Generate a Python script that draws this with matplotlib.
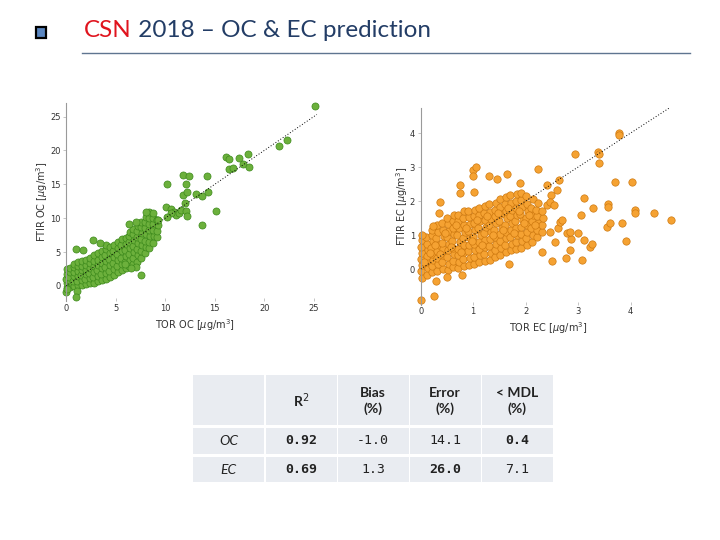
import matplotlib
matplotlib.use("Agg")
import matplotlib.pyplot as plt
from matplotlib.patches import Rectangle

# OC: TOR (x) vs FTIR (y), ug/m3
oc_points = [
    # dense band
    (0.05, -0.3), (0.08, 0.4), (0.03, 1.1), (0.1, 1.8), (0.06, 2.5), (0.02, -0.9),
    (0.4, -0.1), (0.45, 0.6), (0.35, 1.3), (0.42, 2.0), (0.38, 2.7),
    (0.8, 0.0), (0.75, 0.7), (0.85, 1.4), (0.78, 2.1), (0.82, 2.8), (0.8, 3.3),
    (1.2, 0.1), (1.15, 0.8), (1.25, 1.5), (1.18, 2.2), (1.22, 2.9), (1.2, 3.5),
    (1.6, 0.2), (1.65, 0.9), (1.55, 1.6), (1.62, 2.3), (1.58, 3.0), (1.6, 3.7),
    (2.0, 0.3), (1.95, 1.0), (2.05, 1.7), (2.0, 2.4), (1.97, 3.1), (2.03, 3.8),
    (2.4, 0.4), (2.45, 1.2), (2.35, 1.9), (2.42, 2.6), (2.38, 3.4), (2.4, 4.1),
    (2.8, 0.5), (2.75, 1.3), (2.85, 2.1), (2.78, 2.9), (2.82, 3.7), (2.8, 4.5),
    (3.2, 0.7), (3.25, 1.5), (3.15, 2.3), (3.22, 3.1), (3.18, 3.9), (3.2, 4.8),
    (3.6, 0.9), (3.55, 1.7), (3.65, 2.6), (3.58, 3.4), (3.62, 4.3), (3.6, 5.2),
    (4.0, 1.1), (4.05, 1.9), (3.95, 2.8), (4.02, 3.7), (3.98, 4.6), (4.0, 5.5), (4.05, 6.0),
    (4.4, 1.3), (4.35, 2.2), (4.45, 3.1), (4.38, 4.0), (4.42, 4.9), (4.4, 5.8),
    (4.8, 1.6), (4.85, 2.5), (4.75, 3.4), (4.82, 4.3), (4.78, 5.2), (4.8, 6.1),
    (5.2, 2.0), (5.15, 2.9), (5.25, 3.8), (5.18, 4.7), (5.22, 5.6), (5.2, 6.5),
    (5.6, 2.4), (5.65, 3.3), (5.55, 4.2), (5.62, 5.1), (5.58, 6.0), (5.6, 6.9),
    (6.0, 2.6), (5.95, 3.5), (6.05, 4.4), (5.98, 5.3), (6.02, 6.2), (6.0, 7.1),
    (6.4, 2.9), (6.45, 3.8), (6.35, 4.7), (6.42, 5.6), (6.38, 6.5), (6.4, 7.4), (6.45, 8.0),
    (6.8, 3.2), (6.75, 4.1), (6.85, 5.0), (6.78, 5.9), (6.82, 6.8), (6.8, 7.7), (6.75, 8.4),
    (7.2, 3.6), (7.25, 4.5), (7.15, 5.4), (7.22, 6.3), (7.18, 7.2), (7.2, 8.1), (7.25, 8.9),
    (7.6, 4.2), (7.55, 5.1), (7.65, 6.0), (7.58, 6.9), (7.62, 7.8), (7.6, 8.7), (7.55, 9.4),
    (8.0, 4.9), (8.05, 5.8), (7.95, 6.7), (8.02, 7.6), (7.98, 8.5), (8.0, 9.4), (8.05, 10.2),
    (8.4, 5.6), (8.35, 6.5), (8.45, 7.4), (8.38, 8.3), (8.42, 9.2), (8.4, 10.1), (8.35, 10.9),
    (8.8, 6.4), (8.85, 7.3), (8.75, 8.2), (8.82, 9.1), (8.78, 10.0), (8.8, 10.8),
    (9.2, 7.2), (9.15, 8.1), (9.25, 9.0), (9.2, 9.8),
    # scattered points
    (1.0, 5.4), (1.7, 5.3), (2.7, 6.8), (3.4, 6.3), (6.4, 9.2), (7.1, 9.5),
    (8.1, 10.9), (9.2, 9.7), (7.6, 1.6), (7.1, 2.8), (6.6, 2.6), (5.9, 3.3),
    (1.07, -0.8), (1.0, -1.7), (0.1, -0.5),
    (9.3, 9.8), (10.1, 11.7), (10.6, 11.4), (10.9, 10.9), (11.1, 10.4),
    (10.6, 10.7), (10.2, 10.2), (11.4, 10.7), (10.2, 15.0),
    (11.6, 11.2), (12.1, 11.1), (12.2, 10.3), (12.0, 12.2), (11.8, 13.4),
    (12.1, 15.1), (11.8, 16.3), (12.4, 16.2), (12.2, 13.8), (13.1, 13.6),
    (13.7, 13.3), (13.7, 9.0), (14.3, 13.8), (14.2, 16.2), (15.1, 11.1),
    (16.1, 19.0), (16.4, 18.7), (16.4, 17.2), (16.8, 17.4), (17.4, 18.9),
    (17.9, 18.0), (18.4, 19.5), (18.5, 17.5), (21.5, 20.6), (22.3, 21.6),
    (25.07, 26.6),
]

# EC: TOR (x) vs FTIR (y), ug/m3
ec_points = [
    # dense blob
    (0.02, -0.25), (0.0, -0.05), (0.03, 0.12), (0.01, 0.3), (0.02, 0.48), (0.0, 0.66), (0.03, 0.85),
    (0.12, -0.18), (0.13, 0.02), (0.11, 0.2), (0.12, 0.38), (0.14, 0.57), (0.12, 0.75), (0.1, 0.93),
    (0.22, -0.1), (0.21, 0.08), (0.23, 0.27), (0.22, 0.45), (0.2, 0.63), (0.24, 0.82), (0.22, 1.0), (0.21, 1.15),
    (0.32, -0.05), (0.33, 0.14), (0.31, 0.33), (0.32, 0.52), (0.34, 0.7), (0.3, 0.9), (0.33, 1.08), (0.32, 1.28),
    (0.42, 0.0), (0.41, 0.2), (0.43, 0.4), (0.42, 0.58), (0.4, 0.77), (0.44, 0.97), (0.42, 1.15), (0.41, 1.35),
    (0.52, -0.02), (0.53, 0.15), (0.51, 0.35), (0.52, 0.55), (0.54, 0.74), (0.5, 0.93), (0.53, 1.12), (0.52, 1.32), (0.51, 1.5),
    (0.62, 0.05), (0.61, 0.25), (0.63, 0.44), (0.62, 0.63), (0.6, 0.82), (0.64, 1.02), (0.62, 1.22), (0.61, 1.42), (0.63, 1.6),
    (0.72, 0.03), (0.73, 0.22), (0.71, 0.41), (0.72, 0.6), (0.74, 0.8), (0.7, 1.0), (0.73, 1.2), (0.72, 1.4), (0.71, 1.6),
    (0.82, 0.1), (0.81, 0.3), (0.83, 0.5), (0.82, 0.7), (0.8, 0.9), (0.84, 1.1), (0.82, 1.3), (0.81, 1.5), (0.83, 1.7),
    (0.92, 0.12), (0.93, 0.32), (0.91, 0.52), (0.92, 0.72), (0.94, 0.92), (0.9, 1.12), (0.93, 1.32), (0.92, 1.52), (0.91, 1.72),
    (1.02, 0.15), (1.01, 0.35), (1.03, 0.55), (1.02, 0.75), (1.0, 0.95), (1.04, 1.15), (1.02, 1.35), (1.01, 1.55), (1.03, 1.75),
    (1.12, 0.2), (1.13, 0.4), (1.11, 0.6), (1.12, 0.8), (1.14, 1.0), (1.1, 1.2), (1.13, 1.4), (1.12, 1.6), (1.11, 1.8),
    (1.22, 0.25), (1.21, 0.45), (1.23, 0.65), (1.22, 0.85), (1.2, 1.05), (1.24, 1.25), (1.22, 1.45), (1.21, 1.65), (1.23, 1.85),
    (1.32, 0.28), (1.33, 0.48), (1.31, 0.68), (1.32, 0.88), (1.34, 1.08), (1.3, 1.28), (1.33, 1.48), (1.32, 1.68), (1.31, 1.9),
    (1.42, 0.35), (1.41, 0.55), (1.43, 0.75), (1.42, 0.95), (1.4, 1.15), (1.44, 1.35), (1.42, 1.55), (1.41, 1.75), (1.43, 1.95),
    (1.52, 0.42), (1.53, 0.62), (1.51, 0.82), (1.52, 1.02), (1.54, 1.22), (1.5, 1.42), (1.53, 1.62), (1.52, 1.82), (1.51, 2.05),
    (1.62, 0.5), (1.61, 0.7), (1.63, 0.9), (1.62, 1.1), (1.6, 1.3), (1.64, 1.5), (1.62, 1.7), (1.61, 1.9), (1.63, 2.12),
    (1.72, 0.55), (1.73, 0.75), (1.71, 0.95), (1.72, 1.15), (1.74, 1.35), (1.7, 1.55), (1.73, 1.75), (1.72, 1.95), (1.71, 2.18),
    (1.82, 0.6), (1.81, 0.8), (1.83, 1.0), (1.82, 1.2), (1.8, 1.4), (1.84, 1.6), (1.82, 1.8), (1.81, 2.0), (1.83, 2.22),
    (1.92, 0.63), (1.93, 0.83), (1.91, 1.03), (1.92, 1.23), (1.94, 1.43), (1.9, 1.63), (1.93, 1.83), (1.92, 2.03), (1.91, 2.24),
    (2.02, 0.7), (2.01, 0.9), (2.03, 1.1), (2.02, 1.3), (2.0, 1.5), (2.04, 1.7), (2.02, 1.9), (2.01, 2.15),
    (2.12, 0.8), (2.13, 1.0), (2.11, 1.2), (2.12, 1.4), (2.14, 1.6), (2.1, 1.8), (2.13, 2.05),
    (2.22, 0.95), (2.21, 1.15), (2.23, 1.35), (2.22, 1.55), (2.2, 1.75), (2.24, 1.95),
    (2.32, 1.1), (2.31, 1.3), (2.33, 1.5), (2.32, 1.7),
    # in-between fill of the blob
    (0.07, 0.2), (0.17, 0.48), (0.27, 0.72), (0.37, 0.45), (0.47, 1.05), (0.57, 0.65),
    (0.67, 1.3), (0.77, 0.5), (0.87, 1.2), (0.97, 0.82), (1.07, 1.45), (1.17, 0.7),
    (1.27, 1.55), (1.37, 1.0), (1.47, 1.65), (1.57, 1.15), (1.67, 1.8), (1.77, 1.05),
    (1.87, 1.7), (1.97, 1.35), (2.07, 1.6), (2.17, 1.3),
    # scattered points
    (0.02, 1.0), (0.23, 1.27), (0.34, 1.64), (0.37, 1.96), (0.0, -0.91),
    (0.25, -0.78), (0.3, -0.34), (0.5, -0.23), (0.78, -0.18), (1.69, 0.14),
    (0.74, 2.47), (0.74, 2.23), (1.0, 2.9), (1.05, 3.0), (1.0, 2.73), (1.02, 2.27),
    (1.31, 2.73), (1.45, 2.64), (1.65, 2.78), (1.9, 2.54), (2.24, 2.94),
    (2.4, 2.47), (2.64, 2.62), (2.59, 2.32), (2.48, 2.18), (2.4, 1.88),
    (2.46, 1.98), (2.54, 1.88), (2.62, 1.2), (2.65, 1.39), (2.7, 1.44),
    (2.46, 1.1), (2.56, 0.78), (2.32, 0.49), (2.5, 0.24), (2.77, 0.33),
    (2.84, 0.56), (2.86, 0.88), (2.78, 1.05), (2.84, 1.08), (3.0, 1.05),
    (3.07, 0.28), (3.11, 0.85), (3.22, 0.66), (3.27, 0.73), (3.05, 1.59),
    (3.12, 2.08), (3.29, 1.78), (2.93, 3.37), (3.38, 3.45), (3.4, 3.37),
    (3.4, 3.11), (3.78, 4.01), (3.78, 3.94), (3.56, 1.9), (3.57, 1.83),
    (3.55, 1.25), (3.6, 1.34), (3.83, 1.36), (3.91, 0.83), (3.7, 2.55),
    (4.02, 2.55), (4.08, 1.75), (4.08, 1.64), (4.44, 1.64), (4.77, 1.44),
]

tor_oc = [p[0] for p in oc_points]
ftir_oc = [p[1] for p in oc_points]
tor_ec = [p[0] for p in ec_points]
ftir_ec = [p[1] for p in ec_points]

col_labels = ["", "R$^{2}$", "Bias\n(%)", "Error\n(%)", "< MDL\n(%)"]
row_labels = ["OC", "EC"]
stats = [["0.92", "-1.0", "14.1", "0.4"],
         ["0.69", "1.3", "26.0", "7.1"]]
bold_cells = [[True, False, False, True],
              [True, False, True, False]]

fig = plt.figure(figsize=(7.2, 5.4), dpi=100)

# slide layer in pixel coordinates
bg = fig.add_axes([0, 0, 1, 1])
bg.set_xlim(0, 720)
bg.set_ylim(540, 0)
bg.axis("off")

bg.add_patch(Rectangle((36, 27), 10, 11, facecolor="#5a86c0", edgecolor="black", lw=1.6))
t = bg.text(84, 37, "CSN", color="#e0141e", fontsize=17.5, family="Lato", va="baseline")
bg.annotate(" 2018 – OC & EC prediction", xy=(1, 37), xycoords=(t, "data"),
            color="#233d66", fontsize=17.5, family="Lato", va="baseline")
bg.plot([82, 690], [53, 53], color="#5f7590", lw=1.0)

# table
col_x = [193, 265.5, 337.5, 409.5, 481.5]
cell_w = 71
row_y = [375, 428, 457]
row_h = [50, 26, 25]
cell_col = "#e9ecf1"
for i, x0 in enumerate(col_x):
    for j, y0 in enumerate(row_y):
        bg.add_patch(Rectangle((x0, y0), cell_w, row_h[j], facecolor=cell_col,
                               edgecolor="none"))
for i, lab in enumerate(col_labels):
    if lab:
        bg.text(col_x[i] + cell_w / 2, row_y[0] + row_h[0] / 2 + 1, lab,
                ha="center", va="center", fontsize=10, family="Lato",
                weight="bold", color="#222222", linespacing=1.3)
for j, lab in enumerate(row_labels):
    yc = row_y[j + 1] + row_h[j + 1] / 2
    bg.text(col_x[0] + cell_w / 2, yc, lab, ha="center", va="center",
            fontsize=10, family="Lato", style="italic", color="#222222")
    for i, val in enumerate(stats[j]):
        bg.text(col_x[i + 1] + cell_w / 2, yc, val, ha="center", va="center",
                fontsize=9.5, family="DejaVu Sans Mono", color="#222222",
                weight="bold" if bold_cells[j][i] else "normal")


def style_axes(ax):
    for s in ["top", "right", "bottom"]:
        ax.spines[s].set_visible(False)
    ax.spines["left"].set_color("#9a9a9a")
    ax.spines["left"].set_linewidth(0.8)
    ax.tick_params(axis="both", labelsize=6, colors="#bbbbbb", labelcolor="#333333",
                   length=2, width=0.6, pad=2)
    ax.tick_params(axis="x", direction="in")
    ax.patch.set_alpha(0)


# OC scatter
ax1 = fig.add_axes([0.0917, 0.4428, 0.358, 0.3665])
ax1.plot([0, 25.3], [0, 25.3], color="black", lw=0.7, ls=(0, (1, 2)), zorder=3)
ax1.scatter(tor_oc, ftir_oc, s=26, c="#6cb03c", edgecolors="#3d8a1c",
            linewidths=0.5, zorder=2, clip_on=False)
ax1.set_xlim(0, 26)
ax1.set_ylim(-2.2, 27)
ax1.set_xticks([0, 5, 10, 15, 20, 25])
ax1.set_yticks([0, 5, 10, 15, 20, 25])
ax1.set_xlabel("TOR OC [$\\mu$g/m$^3$]", fontsize=7, color="#333333", labelpad=3)
ax1.set_ylabel("FTIR OC [$\\mu$g/m$^3$]", fontsize=7, color="#333333", labelpad=0)
style_axes(ax1)

# EC scatter
ax2 = fig.add_axes([0.5843, 0.4357, 0.3536, 0.3652])
ax2.plot([0, 4.75], [0, 4.75], color="black", lw=0.7, ls=(0, (1, 2)), zorder=3)
ax2.scatter(tor_ec, ftir_ec, s=28, c="#f5a232", edgecolors="#cf7a10",
            linewidths=0.5, zorder=2, clip_on=False)
ax2.set_xlim(0, 4.85)
ax2.set_ylim(-1.05, 4.75)
ax2.set_xticks([0, 1, 2, 3, 4])
ax2.set_yticks([0, 1, 2, 3, 4])
ax2.set_xlabel("TOR EC [$\\mu$g/m$^3$]", fontsize=7, color="#333333", labelpad=3)
ax2.set_ylabel("FTIR EC [$\\mu$g/m$^3$]", fontsize=7, color="#333333", labelpad=0)
style_axes(ax2)

fig.savefig("out.png", dpi=100)
